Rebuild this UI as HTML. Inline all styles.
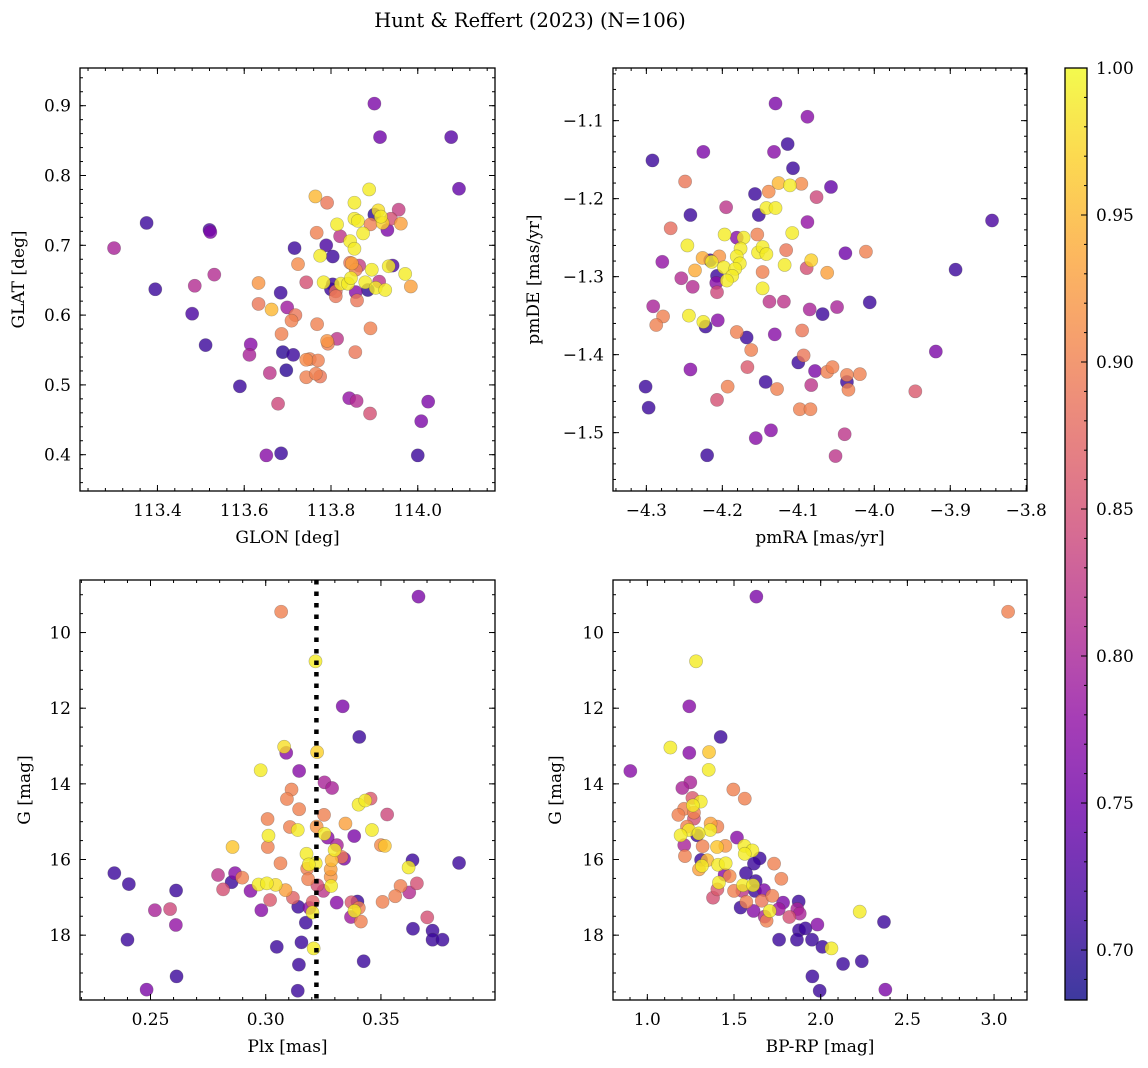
<!DOCTYPE html>
<html><head><meta charset="utf-8">
<style>
html,body{margin:0;padding:0;background:#fff;}
svg{display:block;font-family:"DejaVu Serif","Liberation Serif",serif;}
</style></head>
<body>
<svg id="fig" width="1148" height="1068" viewBox="0 0 1148 1068" xmlns="http://www.w3.org/2000/svg">
<text x="530" y="27" text-anchor="middle" font-size="19.5">Hunt &amp; Reffert (2023) (N=106)</text>
</svg>
<script>
// ---------- Panel 1: GLON / GLAT ----------
const glonX=[113.900,113.913,114.077,114.095,113.888,113.764,113.791,113.854,113.375,113.520,113.522,113.300,113.909,113.900,113.915,113.956,113.938,113.919,113.961,113.930,113.891,113.854,113.862,113.814,113.767,113.821,113.874,113.844,113.854,113.716,113.789,113.804,113.775,113.724,113.844,113.848,113.865,113.857,113.894,113.933,113.942,113.971,113.984,113.531,113.486,113.395,113.633,113.743,113.783,113.804,113.800,113.811,113.811,113.823,113.839,113.846,113.879,113.911,113.885,113.903,113.925,113.857,113.860,113.684,113.633,113.663,113.699,113.718,113.709,113.480,113.768,113.891,113.686,113.814,113.791,113.793,113.856,113.511,113.615,113.612,113.689,113.713,113.743,113.751,113.770,113.697,113.659,113.743,113.765,113.775,113.590,113.678,113.842,113.859,113.890,114.024,114.008,113.651,113.685,114.000];
const glatY=[0.903,0.855,0.855,0.781,0.780,0.770,0.761,0.761,0.732,0.722,0.719,0.696,0.750,0.744,0.741,0.751,0.738,0.732,0.731,0.722,0.730,0.738,0.735,0.730,0.718,0.713,0.717,0.706,0.695,0.696,0.700,0.684,0.685,0.673,0.675,0.674,0.671,0.665,0.665,0.670,0.671,0.659,0.641,0.658,0.642,0.637,0.646,0.647,0.647,0.644,0.637,0.634,0.627,0.645,0.645,0.653,0.647,0.648,0.636,0.639,0.636,0.633,0.621,0.632,0.616,0.608,0.611,0.600,0.592,0.602,0.587,0.581,0.573,0.566,0.563,0.559,0.547,0.557,0.558,0.543,0.547,0.543,0.536,0.537,0.535,0.521,0.517,0.511,0.516,0.512,0.498,0.473,0.481,0.477,0.459,0.476,0.448,0.399,0.402,0.399];
const prob1=[.76,.75,.73,.74,.99,.95,.89,.99,.71,.72,.76,.80,.98,.70,.99,.83,.85,.97,.93,.76,.90,.99,.99,.99,.90,.82,.99,.99,.99,.71,.72,.71,.99,.91,.89,.93,.83,.90,.99,.99,.72,.99,.93,.81,.81,.71,.92,.85,.99,.71,.71,.88,.89,.99,.99,.99,.99,.82,.70,.99,.99,.77,.89,.71,.89,.95,.79,.89,.90,.72,.90,.90,.90,.82,.92,.90,.89,.71,.77,.80,.70,.71,.91,.90,.90,.70,.82,.90,.90,.89,.71,.84,.78,.81,.85,.76,.76,.77,.71,.71];
const p1XTicks=[113.4,113.6,113.8,114.0];
const p1XTickLabels=["113.4","113.6","113.8","114.0"];
const p1YTicks=[0.4,0.5,0.6,0.7,0.8,0.9];
const p1YTickLabels=["0.4","0.5","0.6","0.7","0.8","0.9"];

// ---------- Panel 2: pmRA / pmDE ----------
const pmraX=[-4.130,-4.088,-4.114,-4.132,-4.225,-4.292,-4.107,-4.249,-4.126,-4.111,-4.096,-4.057,-4.157,-4.139,-4.076,-4.195,-4.142,-4.130,-4.242,-4.152,-4.088,-3.845,-4.268,-4.197,-4.181,-4.172,-4.154,-4.108,-4.246,-4.176,-4.116,-4.153,-4.147,-4.142,-4.038,-4.011,-4.226,-4.216,-4.204,-4.181,-4.214,-4.177,-4.198,-4.279,-4.118,-4.083,-4.089,-4.062,-4.236,-4.183,-4.147,-4.187,-4.194,-4.207,-4.208,-4.207,-4.254,-4.239,-4.147,-3.893,-4.291,-4.138,-4.119,-4.085,-4.049,-4.068,-4.006,-4.278,-4.287,-4.244,-4.225,-4.222,-4.206,-4.181,-4.168,-4.131,-4.095,-4.162,-4.093,-4.100,-3.919,-4.242,-4.167,-4.078,-4.062,-4.055,-4.036,-4.019,-4.036,-4.034,-4.301,-4.143,-4.193,-4.128,-4.083,-3.946,-4.297,-4.207,-4.098,-4.084,-4.156,-4.136,-4.039,-4.051,-4.220];
const pmdeY=[-1.078,-1.095,-1.130,-1.140,-1.140,-1.151,-1.161,-1.178,-1.180,-1.183,-1.181,-1.185,-1.194,-1.191,-1.198,-1.211,-1.212,-1.212,-1.221,-1.221,-1.230,-1.228,-1.238,-1.246,-1.250,-1.250,-1.246,-1.244,-1.260,-1.264,-1.266,-1.269,-1.262,-1.271,-1.270,-1.268,-1.276,-1.279,-1.274,-1.274,-1.281,-1.283,-1.288,-1.281,-1.285,-1.279,-1.289,-1.295,-1.292,-1.290,-1.294,-1.299,-1.305,-1.299,-1.308,-1.320,-1.302,-1.313,-1.315,-1.291,-1.338,-1.332,-1.332,-1.342,-1.339,-1.348,-1.333,-1.351,-1.362,-1.350,-1.358,-1.364,-1.356,-1.371,-1.378,-1.374,-1.369,-1.394,-1.401,-1.410,-1.396,-1.419,-1.416,-1.421,-1.422,-1.416,-1.426,-1.425,-1.435,-1.445,-1.441,-1.435,-1.441,-1.444,-1.439,-1.447,-1.468,-1.458,-1.470,-1.470,-1.507,-1.497,-1.502,-1.530,-1.529];
const prob2=[.76,.77,.71,.77,.76,.71,.71,.89,.95,.99,.91,.74,.71,.91,.84,.82,.99,.99,.71,.71,.78,.72,.88,.99,.77,.99,.90,.99,.99,.99,.89,.99,.99,.99,.75,.90,.94,.71,.92,.99,.99,.99,.99,.78,.99,.97,.85,.93,.94,.99,.90,.99,.99,.71,.77,.84,.81,.81,.99,.71,.80,.82,.82,.80,.80,.71,.71,.90,.90,.99,.99,.71,.77,.90,.71,.77,.89,.90,.89,.71,.76,.77,.86,.76,.90,.90,.90,.90,.71,.90,.71,.71,.90,.90,.82,.86,.71,.85,.90,.90,.77,.77,.82,.82,.71];
const p2XTicks=[-4.3,-4.2,-4.1,-4.0,-3.9,-3.8];
const p2XTickLabels=["\u22124.3","\u22124.2","\u22124.1","\u22124.0","\u22123.9","\u22123.8"];
const p2YTicks=[-1.5,-1.4,-1.3,-1.2,-1.1];
const p2YTickLabels=["\u22121.5","\u22121.4","\u22121.3","\u22121.2","\u22121.1"];

// ---------- Panel 3: Plx / G ----------
const plxX=[0.3663,0.3067,0.3216,0.3334,0.3406,0.3080,0.3089,0.3223,0.2978,0.3145,0.3255,0.3288,0.3112,0.3092,0.3455,0.3403,0.3432,0.3145,0.3008,0.3253,0.3527,0.3105,0.3139,0.3221,0.3346,0.3461,0.3012,0.3255,0.3269,0.3384,0.3309,0.3500,0.3517,0.2856,0.3009,0.3299,0.3177,0.3329,0.3340,0.3286,0.3637,0.3064,0.3217,0.3187,0.3839,0.3620,0.3180,0.3282,0.2343,0.2793,0.2867,0.2898,0.3282,0.3184,0.2406,0.2852,0.2815,0.2969,0.3005,0.3043,0.3086,0.3224,0.3250,0.3284,0.3585,0.3656,0.3623,0.2611,0.2934,0.3019,0.3118,0.3562,0.3507,0.3204,0.3308,0.3372,0.3398,0.3141,0.3190,0.3404,0.3385,0.3203,0.2519,0.2585,0.2981,0.3370,0.3413,0.3701,0.2610,0.3174,0.3639,0.3724,0.3724,0.3767,0.2400,0.3048,0.3155,0.3208,0.3144,0.3425,0.2613,0.2483,0.3139];
const gmag3=[9.05,9.45,10.76,11.95,12.76,13.02,13.18,13.16,13.64,13.66,13.96,14.11,14.15,14.40,14.39,14.55,14.44,14.67,14.93,14.82,14.81,15.14,15.22,15.13,15.05,15.22,15.37,15.32,15.42,15.38,15.62,15.62,15.64,15.67,15.67,15.75,15.85,15.93,15.98,16.02,16.02,16.10,16.10,16.13,16.09,16.21,16.24,16.26,16.36,16.41,16.36,16.48,16.46,16.52,16.65,16.60,16.79,16.66,16.63,16.67,16.81,16.68,16.83,16.70,16.70,16.63,16.87,16.82,16.83,17.07,17.01,16.97,17.12,17.12,17.14,17.13,17.11,17.25,17.28,17.28,17.36,17.40,17.34,17.31,17.34,17.52,17.64,17.53,17.73,17.67,17.83,17.88,18.12,18.12,18.12,18.31,18.19,18.35,18.78,18.69,19.09,19.44,19.47];
const prob3=[.76,.90,.99,.76,.71,.98,.77,.97,.99,.77,.80,.80,.90,.90,.86,.99,.99,.90,.90,.90,.84,.90,.99,.92,.93,.99,.99,.99,.77,.76,.80,.91,.96,.96,.90,.99,.99,.89,.76,.95,.71,.90,.99,.99,.71,.99,.90,.93,.71,.82,.77,.90,.92,.90,.71,.71,.85,.99,.99,.98,.93,.85,.82,.99,.90,.85,.81,.71,.77,.86,.87,.90,.90,.87,.77,.86,.71,.71,.77,.90,.99,.99,.80,.84,.77,.79,.90,.85,.78,.71,.71,.71,.71,.71,.71,.71,.71,.99,.71,.71,.71,.76,.71];
const plxRef=[0.322];
const p3XTicks=[0.25,0.30,0.35];
const p3XTickLabels=["0.25","0.30","0.35"];
const gTicks=[10,12,14,16,18];
const gTickLabels=["10","12","14","16","18"];

// ---------- Panel 4: BP-RP / G ----------
const bprpX=[1.629,3.081,1.281,1.242,1.423,1.133,1.242,1.356,1.354,0.902,1.248,1.202,1.496,1.562,1.260,1.308,1.263,1.212,1.269,1.179,1.269,1.365,1.404,1.229,1.240,1.363,1.296,1.287,1.192,1.517,1.213,1.319,1.450,1.402,1.560,1.606,1.562,1.648,1.615,1.217,1.731,1.310,1.346,1.408,1.452,1.315,1.298,1.569,1.446,1.475,1.773,1.625,1.413,1.552,1.610,1.404,1.500,1.621,1.673,1.548,1.721,1.379,1.571,1.660,1.783,1.873,1.538,1.613,1.706,1.758,1.865,1.879,1.677,1.819,1.688,2.225,2.365,1.981,1.875,1.912,1.760,1.863,1.950,2.010,2.062,2.129,2.237,1.952,1.994,2.373];
const gmag4=[9.05,9.45,10.76,11.95,12.76,13.04,13.18,13.16,13.63,13.66,13.96,14.11,14.15,14.39,14.37,14.47,14.57,14.66,14.76,14.82,14.92,15.05,15.13,15.13,15.22,15.22,15.31,15.36,15.36,15.42,15.62,15.65,15.64,15.67,15.64,15.76,15.85,15.97,16.11,15.91,16.11,16.01,16.02,16.14,16.10,16.17,16.26,16.36,16.40,16.44,16.51,16.57,16.61,16.68,16.68,16.79,16.83,16.83,16.81,16.83,16.96,17.01,17.12,17.09,17.14,17.11,17.27,17.36,17.36,17.31,17.31,17.43,17.51,17.52,17.62,17.38,17.65,17.72,17.87,17.82,18.12,18.12,18.12,18.31,18.35,18.76,18.69,19.09,19.47,19.44];
const prob4=[.76,.90,.99,.77,.71,.99,.77,.96,.99,.77,.80,.80,.90,.90,.86,.99,.99,.90,.90,.90,.85,.93,.90,.90,.99,.99,.99,.71,.99,.77,.80,.90,.92,.96,.99,.99,.99,.71,.71,.90,.90,.71,.95,.99,.99,.99,.93,.71,.77,.91,.90,.71,.99,.99,.99,.86,.90,.71,.76,.82,.90,.85,.90,.89,.76,.71,.71,.77,.99,.79,.80,.80,.80,.85,.90,.99,.71,.77,.71,.71,.71,.71,.71,.71,.99,.71,.71,.71,.71,.76];
const p4XTicks=[1.0,1.5,2.0,2.5,3.0];
const p4XTickLabels=["1.0","1.5","2.0","2.5","3.0"];

// ---------- Colorbar ----------
const cbarTicks=[0.70,0.75,0.80,0.85,0.90,0.95,1.00];
const cbarTickLabels=["0.70","0.75","0.80","0.85","0.90","0.95","1.00"];
const cbarMin=0.683, cbarMax=1.0;

const NS="http://www.w3.org/2000/svg";
const svg=document.getElementById('fig');
const FS=17;
const plasma=[[13,8,135],[65,4,157],[106,0,168],[143,13,164],[177,42,144],[204,71,120],[225,100,98],[242,132,75],[252,166,54],[252,206,37],[240,249,33]];
function cmap(v){
  let t=(v-cbarMin)/(cbarMax-cbarMin);t=Math.max(0,Math.min(1,t));
  const f=t*10,i=Math.min(9,Math.floor(f)),r=f-i;
  const a=plasma[i],b=plasma[i+1];
  return 'rgb('+a.map((c,k)=>Math.round(c+(b[k]-c)*r)).join(',')+')';
}
function el(tag,attrs,parent){
  const e=document.createElementNS(NS,tag);
  for(const k in attrs)e.setAttribute(k,attrs[k]);
  (parent||svg).appendChild(e);return e;
}
function range(a,b,s){const o=[];for(let v=a;v<=b+1e-9;v+=s)o.push(+v.toFixed(6));return o;}

function panel(o){
  const g=el('g',{});
  
  
  const sx=v=>o.x0+(v-o.xmin)/(o.xmax-o.xmin)*(o.x1-o.x0);
  const sy=o.invert?(v=>o.y0+(v-o.ymin)/(o.ymax-o.ymin)*(o.y1-o.y0)):(v=>o.y1-(v-o.ymin)/(o.ymax-o.ymin)*(o.y1-o.y0));
  const cid='clip-'+o.name;
  const cp=el('clipPath',{id:cid},g);
  el('rect',{x:o.x0,y:o.y0,width:o.x1-o.x0,height:o.y1-o.y0},cp);
  const pts=el('g',{'clip-path':'url(#'+cid+')'},g);
  
  
  const idx=o.xs.map((_,i)=>i).sort((a,b)=>o.ps[a]-o.ps[b]);
  idx.forEach(i=>{
    const c=el('circle',{cx:sx(o.xs[i]),cy:sy(o.ys[i]),r:6.6,fill:cmap(o.ps[i]),'fill-opacity':0.8,stroke:'rgba(60,60,60,0.35)','stroke-width':0.6},pts);
    
    
  });
  if(o.vline!==undefined){
    const l=el('line',{x1:sx(o.vline),x2:sx(o.vline),y1:o.y0,y2:o.y1,stroke:'#000','stroke-width':4.5,'stroke-dasharray':'4.5 7'},g);
    
    
  }
  const tk={stroke:'#000','stroke-width':1};
  o.xMinor.forEach(v=>{const x=sx(v);if(x<o.x0||x>o.x1)return;el('line',Object.assign({x1:x,x2:x,y1:o.y1,y2:o.y1-3},tk),g);el('line',Object.assign({x1:x,x2:x,y1:o.y0,y2:o.y0+3},tk),g);});
  o.yMinor.forEach(v=>{const y=sy(v);if(y<o.y0||y>o.y1)return;el('line',Object.assign({x1:o.x0,x2:o.x0+3,y1:y,y2:y},tk),g);el('line',Object.assign({x1:o.x1,x2:o.x1-3,y1:y,y2:y},tk),g);});
  o.xTicks.forEach((v,i)=>{const x=sx(v);
    el('line',Object.assign({x1:x,x2:x,y1:o.y1,y2:o.y1-6},tk),g);el('line',Object.assign({x1:x,x2:x,y1:o.y0,y2:o.y0+6},tk),g);
    const t=el('text',{x:x,y:o.y1+25,'text-anchor':'middle','font-size':FS},g);t.textContent=o.xLabels[i];
    
    
  });
  o.yTicks.forEach((v,i)=>{const y=sy(v);
    el('line',Object.assign({x1:o.x0,x2:o.x0+6,y1:y,y2:y},tk),g);el('line',Object.assign({x1:o.x1,x2:o.x1-6,y1:y,y2:y},tk),g);
    const t=el('text',{x:o.x0-9,y:y+6,'text-anchor':'end','font-size':FS},g);t.textContent=o.yLabels[i];
    
    
  });
  const fr=el('rect',{x:o.x0,y:o.y0,width:o.x1-o.x0,height:o.y1-o.y0,fill:'none',stroke:'#000','stroke-width':1.3},g);
  
  
  const xt=el('text',{x:(o.x0+o.x1)/2,y:o.y1+52,'text-anchor':'middle','font-size':FS},g);xt.textContent=o.xTitle;
  
  
  const yx=o.yTitleX,yy=(o.y0+o.y1)/2;
  const yt=el('text',{x:yx,y:yy,'text-anchor':'middle','font-size':FS,transform:'rotate(-90 '+yx+' '+yy+')'},g);yt.textContent=o.yTitle;
  
  
}

panel({name:'glon-glat-panel',x0:80,x1:495,y0:68,y1:491,xmin:113.2215,xmax:114.178,ymin:0.348,ymax:0.954,
  xs:glonX,ys:glatY,ps:prob1,xTicks:p1XTicks,xLabels:p1XTickLabels,yTicks:p1YTicks,yLabels:p1YTickLabels,
  xMinor:range(113.24,114.16,0.04),yMinor:range(0.36,0.94,0.02),xTitle:'GLON [deg]',yTitle:'GLAT [deg]',yTitleX:24});
panel({name:'pmra-pmde-panel',x0:613,x1:1027,y0:68,y1:491,xmin:-4.3439,xmax:-3.799,ymin:-1.5748,ymax:-1.0325,
  xs:pmraX,ys:pmdeY,ps:prob2,xTicks:p2XTicks,xLabels:p2XTickLabels,yTicks:p2YTicks,yLabels:p2YTickLabels,
  xMinor:range(-4.34,-3.80,0.02),yMinor:range(-1.56,-1.04,0.02),xTitle:'pmRA [mas/yr]',yTitle:'pmDE [mas/yr]',yTitleX:539});
panel({name:'plx-g-panel',x0:80,x1:495,y0:580,y1:1000,xmin:0.2194,xmax:0.3995,ymin:8.611,ymax:19.714,invert:true,
  xs:plxX,ys:gmag3,ps:prob3,xTicks:p3XTicks,xLabels:p3XTickLabels,yTicks:gTicks,yLabels:gTickLabels,vline:plxRef[0],
  xMinor:range(0.22,0.39,0.01),yMinor:range(9,19.5,0.5),xTitle:'Plx [mas]',yTitle:'G [mag]',yTitleX:30});
panel({name:'bprp-g-panel',x0:613,x1:1027,y0:580,y1:1000,xmin:0.802,xmax:3.190,ymin:8.611,ymax:19.714,invert:true,
  xs:bprpX,ys:gmag4,ps:prob4,xTicks:p4XTicks,xLabels:p4XTickLabels,yTicks:gTicks,yLabels:gTickLabels,
  xMinor:range(0.9,3.1,0.1),yMinor:range(9,19.5,0.5),xTitle:'BP-RP [mag]',yTitle:'G [mag]',yTitleX:561});

(function(){
  const x0=1065,x1=1087,y0=68,y1=1000;
  const g=el('g',{});
  
  
  const defs=el('defs',{},g);
  const lg=el('linearGradient',{id:'cbgrad',x1:0,y1:1,x2:0,y2:0},defs);
  for(let k=0;k<=20;k++){const v=cbarMin+(cbarMax-cbarMin)*k/20;el('stop',{offset:(k/20),'stop-color':cmap(v),'stop-opacity':0.8},lg);}
  el('rect',{x:x0,y:y0,width:x1-x0,height:y1-y0,fill:'url(#cbgrad)'},g);
  el('rect',{x:x0,y:y0,width:x1-x0,height:y1-y0,fill:'none',stroke:'#000','stroke-width':1.3},g);
  const sy=v=>y1-(v-cbarMin)/(cbarMax-cbarMin)*(y1-y0);
  range(0.69,1.0,0.01).forEach(v=>{const y=sy(v);el('line',{x1:x1,x2:x1-3,y1:y,y2:y,stroke:'#000','stroke-width':1},g);});
  cbarTicks.forEach((v,i)=>{const y=sy(v);
    el('line',{x1:x1,x2:x1-6,y1:y,y2:y,stroke:'#000','stroke-width':1},g);
    const t=el('text',{x:x1+9,y:y+6,'font-size':FS},g);t.textContent=cbarTickLabels[i];
    
    
  });
})();
</script>
</body></html>
